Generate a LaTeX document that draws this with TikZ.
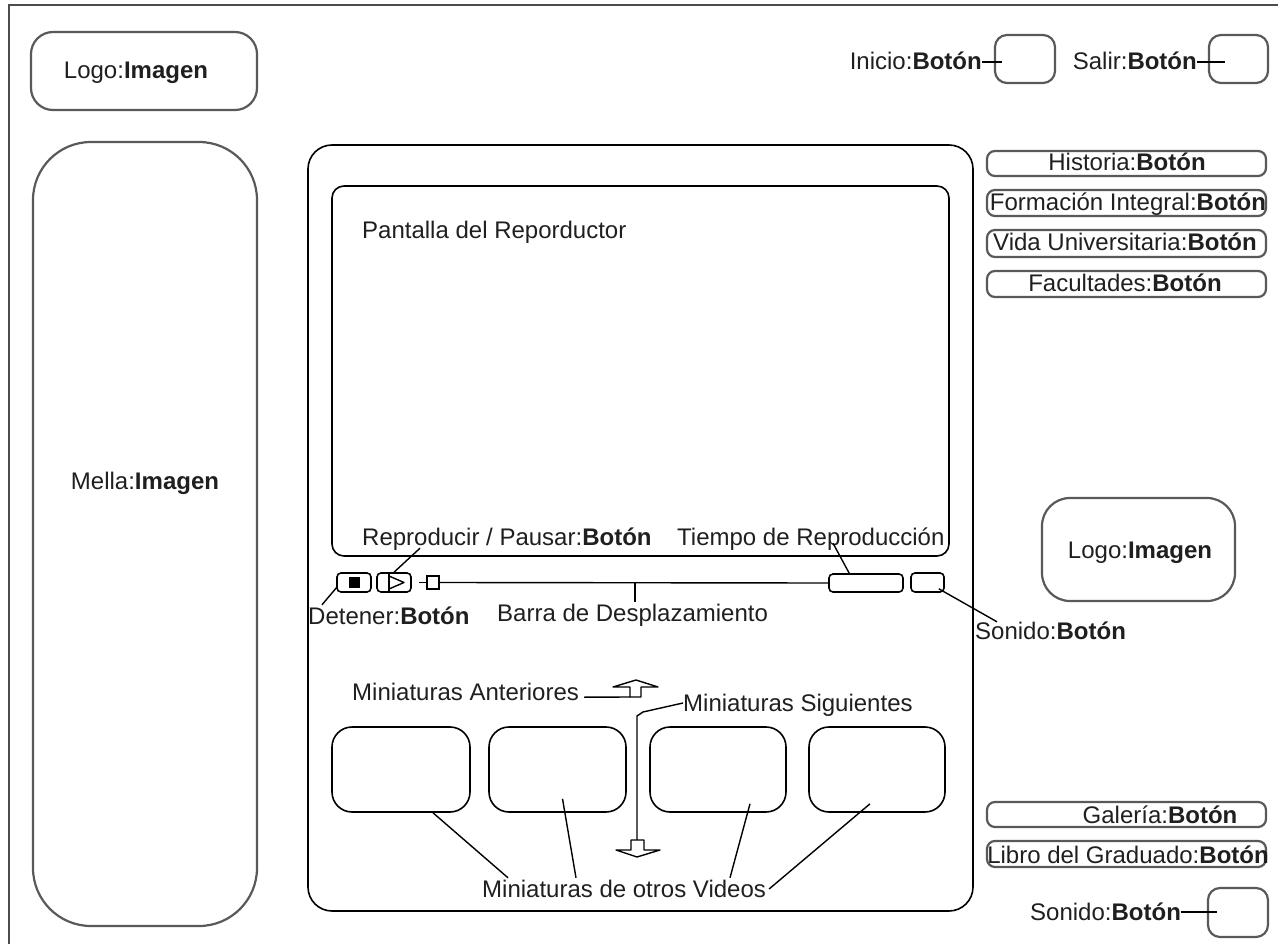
\documentclass[tikz,border=0pt]{standalone}
\usepackage{fontspec}
\setmainfont{Liberation Sans}
\usetikzlibrary{fit,calc}
\newcommand{\boton}{\textbf{Botón}}
\begin{document}
\begin{tikzpicture}[x=1pt,y=-1pt,
  gframe/.style={draw=black!65, line width=2.2pt, inner sep=0pt, rounded corners=#1},
  bframe/.style={draw=black, line width=1.6pt, inner sep=0pt, rounded corners=#1},
  lbl/.style={inner sep=0pt, text height=19pt, text depth=3pt,
              font=\fontsize{24}{28}\selectfont, text=black!88},
  wire/.style={draw=black, line width=1.4pt},
  glyph/.style={draw=black, line width=1.4pt, line join=round}]
\useasboundingbox (0,0) rectangle (1278,944);

% page frame (top and left edges)
\draw[line width=2.4pt, draw=black!70] (9,944) -- (9,5) -- (1278,5);

% left column
\node[gframe=22pt, fit={(31,32)(257,110)}] (logoL) {};
\node[lbl] (logoLT) at (136,71) {Logo:\textbf{Imagen}};
\node[gframe=58pt, fit={(33,142)(257,926)}] (mella) {};
\node[lbl] (mellaT) at (145,481) {Mella:\textbf{Imagen}};

% top buttons
\node[gframe=12pt, fit={(995,35)(1055,83)}] (inicio) {};
\node[lbl, anchor=east] (inicioT) at (982,62) {Inicio:\boton};
\draw[wire] (inicioT.east) -- ($(inicioT.east -| inicio.west)+(8,0)$);
\node[gframe=12pt, fit={(1209,35)(1268,83)}] (salir) {};
\node[lbl, anchor=east] (salirT) at (1197,62) {Salir:\boton};
\draw[wire] (salirT.east) -- ($(salirT.east -| salir.west)+(17,0)$);

% right menu
\node[gframe=8pt, fit={(987,151)(1266,176)}] (hist) {};
\node[lbl] (histT) at (1127,163) {Historia:\boton};
\node[gframe=8pt, fit={(987,190)(1266,216)}] (form) {};
\node[lbl] (formT) at (1128,203) {Formación Integral:\boton};
\node[gframe=8pt, fit={(987,230)(1266,257)}] (vida) {};
\node[lbl] (vidaT) at (1125,243) {Vida Universitaria:\boton};
\node[gframe=8pt, fit={(987,271)(1266,297)}] (facu) {};
\node[lbl] (facuT) at (1125,284) {Facultades:\boton};

% player
\node[bframe=24pt, fit={(308,145)(973,911)}] (player) {};
\node[bframe=12pt, fit={(332,186)(949,556)}] (screen) {};
\node[lbl, anchor=west] (screenT) at (362,231) {Pantalla del Reporductor};
\node[lbl, anchor=west] (reprT) at (362,537) {Reproducir / Pausar:\boton};
\node[lbl, anchor=west] (tiempoT) at (677,537) {Tiempo de Reproducción};

% control bar
\node[bframe=4pt, fit={(337,573)(371,592)}] (stop) {};
\node[fill=black, minimum size=11pt, inner sep=0pt] (stopG) at (stop.center) {};
\node[bframe=4pt, fit={(377,573)(411,592)}] (play) {};
\draw[glyph] (389,574) -- (389,591);
\draw[glyph] (389,576) -- (404,582.5) -- (389,589);
\node[draw=black, line width=1.3pt, inner sep=0pt, fit={(427,576)(439,589)}] (knob) {};
\node[bframe=4pt, fit={(829,574)(903,592)}] (timebox) {};
\node[bframe=4pt, fit={(911,573)(944,592)}] (sound) {};
\draw[wire] ($(knob.west)+(-7,0)$) -- (knob.west);
\draw[wire] (knob.east) -- (timebox.west);

\node[lbl, anchor=west] (detT) at (308,616) {Detener:\boton};
\node[lbl, anchor=west] (barraT) at (497,613) {Barra de Desplazamiento};
\node[lbl, anchor=west] (sonMT) at (975,631) {Sonido:\boton};

\draw[wire] ($(reprT.south west)+(58,0)$) -- (play.north);
\draw[wire] ($(stop.south west)+(1,-6)$) -- ($(detT.north west)+(14,0)$);
\coordinate (barJ) at (635,583);
\draw[wire] (barJ) -- (barJ |- barraT.north);
\draw[wire] ($(tiempoT.south west)+(156,-5)$) -- ($(timebox.north west)+(21,0)$);
\draw[wire] ($(sound.south east)+(-6,-4)$) -- ($(sonMT.north west)+(22,2)$);

% right logo
\node[gframe=28pt, fit={(1042,498)(1235,601)}] (logoR) {};
\node[lbl] (logoRT) at (1140,550) {Logo:\textbf{Imagen}};

% thumbnail navigation
\node[lbl, anchor=west] (antT) at (352,692) {Miniaturas Anteriores};
\coordinate (upA) at (630,697);
\draw[glyph] (upA) -- (630,687) -- (613,687) -- (636,680) -- (658,687) -- (641,687) -- (641,697) -- cycle;
\draw[wire] ($(antT.south east)+(5,-6)$) -- (upA);

\node[lbl, anchor=west] (sigT) at (683,703) {Miniaturas Siguientes};
\coordinate (dnA) at (637,840);
\draw[wire] (sigT.west) -- (643,712) -- (637,716) -- (dnA);
\draw[glyph] (631,840) -- (631,850) -- (616,850) -- (637,857) -- (660,850) -- (644,850) -- (644,840) -- cycle;

% thumbnails
\node[bframe=20pt, fit={(332,727)(470,812)}] (th1) {};
\node[bframe=20pt, fit={(489,727)(626,812)}] (th2) {};
\node[bframe=20pt, fit={(650,727)(786,812)}] (th3) {};
\node[bframe=20pt, fit={(809,727)(945,812)}] (th4) {};
\node[lbl, anchor=west] (vidT) at (482,889) {Miniaturas de otros Videos};
\draw[wire] ($(th1.south)+(32,0)$) -- ($(vidT.north west)+(26,0)$);
\draw[wire] ($(th2.south)+(5,-14)$) -- ($(vidT.north west)+(94,0)$);
\draw[wire] ($(th3.south)+(32,-9)$) -- ($(vidT.north west)+(248,0)$);
\draw[wire] ($(th4.south)+(-7,-9)$) -- ($(vidT.east)+(3,0)$);

% bottom right
\node[gframe=8pt, fit={(987,802)(1266,827)}] (gal) {};
\node[lbl] (galT) at (1160,815) {Galería:\boton};
\node[gframe=8pt, fit={(987,841)(1266,867)}] (libro) {};
\node[lbl] (libroT) at (1128,855) {Libro del Graduado:\boton};
\node[gframe=12pt, fit={(1208,888)(1268,937)}] (sonB) {};
\node[lbl, anchor=west] (sonBT) at (1030,912) {Sonido:\boton};
\draw[wire] (sonBT.east) -- ($(sonBT.east -| sonB.west)+(10,0)$);
\end{tikzpicture}
\end{document}
